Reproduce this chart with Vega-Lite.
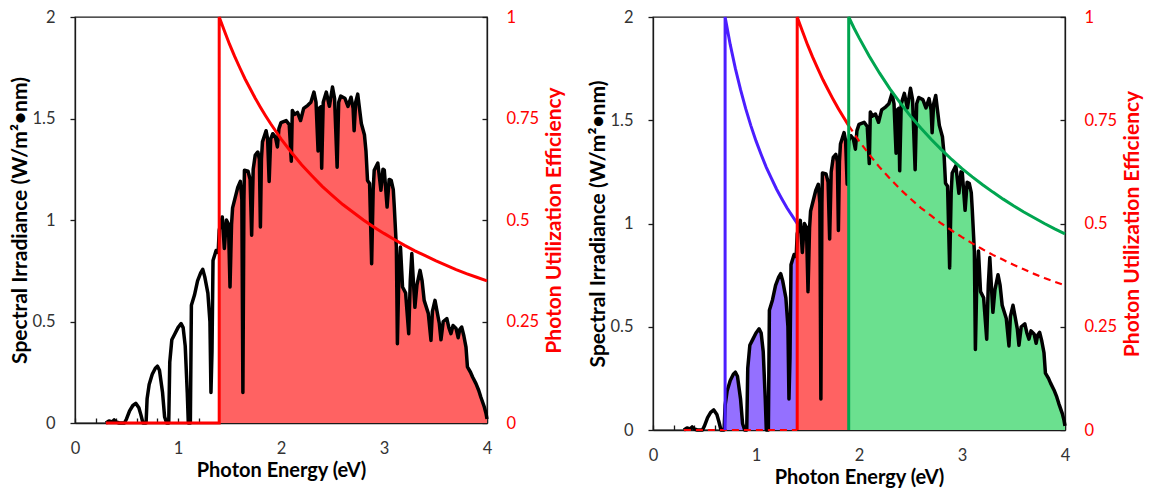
{
"$schema": "https://vega.github.io/schema/vega-lite/v6.json",
"padding": {"left": 9, "top": 8, "right": 0, "bottom": 0},
"background": "white",
"spacing": 21,
"config": {
  "view": {"stroke": "#1a1a1a", "strokeWidth": 1.3},
  "font": "Lato",
  "axis": {"grid": false, "domainColor": "#1a1a1a", "tickColor": "#1a1a1a", "domainWidth": 1.3, "tickWidth": 1.3, "labelFont": "Lato", "titleFont": "Lato", "labelFontSize": 16.5, "titleFontSize": 21, "titleFontWeight": "bold", "labelColor": "#333333", "titleColor": "#000000"}
},
"datasets": {
  "spectrum": [
    {"E":0.30,"irr":0.0},{"E":0.33,"irr":0.01},{"E":0.36,"irr":0.005},{"E":0.38,"irr":0.015},{"E":0.40,"irr":0.005},{"E":0.43,"irr":0.0},{"E":0.48,"irr":0.0},
    {"E":0.50,"irr":0.02},{"E":0.53,"irr":0.06},{"E":0.56,"irr":0.085},{"E":0.59,"irr":0.097},{"E":0.62,"irr":0.075},{"E":0.64,"irr":0.04},{"E":0.66,"irr":0.0},{"E":0.69,"irr":0.0},
    {"E":0.70,"irr":0.12},{"E":0.72,"irr":0.19},{"E":0.75,"irr":0.24},{"E":0.78,"irr":0.27},{"E":0.80,"irr":0.28},{"E":0.82,"irr":0.26},{"E":0.85,"irr":0.15},{"E":0.87,"irr":0.03},{"E":0.89,"irr":0.0},{"E":0.91,"irr":0.0},
    {"E":0.92,"irr":0.3},{"E":0.94,"irr":0.41},{"E":0.97,"irr":0.44},{"E":1.00,"irr":0.47},{"E":1.03,"irr":0.49},{"E":1.05,"irr":0.47},{"E":1.07,"irr":0.38},{"E":1.09,"irr":0.15},{"E":1.10,"irr":0.0},{"E":1.12,"irr":0.0},
    {"E":1.13,"irr":0.58},{"E":1.16,"irr":0.63},{"E":1.19,"irr":0.70},{"E":1.22,"irr":0.74},{"E":1.24,"irr":0.757},{"E":1.26,"irr":0.72},{"E":1.29,"irr":0.64},{"E":1.31,"irr":0.50},{"E":1.32,"irr":0.15},{"E":1.33,"irr":0.35},
    {"E":1.34,"irr":0.80},{"E":1.37,"irr":0.85},{"E":1.39,"irr":0.84},{"E":1.40,"irr":0.95},{"E":1.43,"irr":1.015},{"E":1.45,"irr":0.86},{"E":1.47,"irr":1.0},{"E":1.49,"irr":0.98},{"E":1.505,"irr":0.67},{"E":1.52,"irr":0.98},
    {"E":1.53,"irr":1.06},{"E":1.56,"irr":1.12},{"E":1.58,"irr":1.16},{"E":1.605,"irr":1.19},{"E":1.62,"irr":1.1},{"E":1.63,"irr":0.15},{"E":1.64,"irr":1.1},{"E":1.645,"irr":1.245},{"E":1.68,"irr":1.24},{"E":1.70,"irr":1.2},
    {"E":1.715,"irr":0.925},{"E":1.73,"irr":1.25},{"E":1.75,"irr":1.32},{"E":1.775,"irr":1.335},{"E":1.79,"irr":1.3},{"E":1.80,"irr":0.966},{"E":1.81,"irr":1.3},{"E":1.82,"irr":1.385},{"E":1.855,"irr":1.44},{"E":1.87,"irr":1.4},
    {"E":1.885,"irr":1.19},{"E":1.90,"irr":1.40},{"E":1.92,"irr":1.425},{"E":1.945,"irr":1.41},{"E":1.965,"irr":1.36},{"E":1.98,"irr":1.45},{"E":2.00,"irr":1.48},{"E":2.05,"irr":1.49},{"E":2.08,"irr":1.47},{"E":2.10,"irr":1.29},
    {"E":2.11,"irr":1.54},{"E":2.13,"irr":1.52},{"E":2.16,"irr":1.53},{"E":2.19,"irr":1.49},{"E":2.22,"irr":1.55},{"E":2.26,"irr":1.565},{"E":2.29,"irr":1.58},{"E":2.32,"irr":1.63},{"E":2.34,"irr":1.58},{"E":2.36,"irr":1.34},
    {"E":2.37,"irr":1.55},{"E":2.385,"irr":1.557},{"E":2.395,"irr":1.255},{"E":2.41,"irr":1.58},{"E":2.44,"irr":1.63},{"E":2.47,"irr":1.56},{"E":2.50,"irr":1.655},{"E":2.52,"irr":1.6},{"E":2.545,"irr":1.26},{"E":2.56,"irr":1.58},
    {"E":2.58,"irr":1.61},{"E":2.62,"irr":1.6},{"E":2.65,"irr":1.56},{"E":2.68,"irr":1.605},{"E":2.70,"irr":1.55},{"E":2.71,"irr":1.44},{"E":2.725,"irr":1.58},{"E":2.745,"irr":1.62},{"E":2.78,"irr":1.475},{"E":2.81,"irr":1.42},
    {"E":2.825,"irr":1.34},{"E":2.84,"irr":1.195},{"E":2.86,"irr":1.18},{"E":2.88,"irr":0.785},{"E":2.895,"irr":1.15},{"E":2.905,"irr":1.245},{"E":2.94,"irr":1.28},{"E":2.97,"irr":1.146},{"E":2.99,"irr":1.25},{"E":3.003,"irr":1.245},
    {"E":3.03,"irr":1.064},{"E":3.05,"irr":1.2},{"E":3.07,"irr":1.195},{"E":3.09,"irr":1.15},{"E":3.10,"irr":1.064},{"E":3.12,"irr":0.867},{"E":3.13,"irr":0.39},{"E":3.145,"irr":0.75},{"E":3.16,"irr":0.867},{"E":3.18,"irr":0.67},
    {"E":3.21,"irr":0.64},{"E":3.24,"irr":0.44},{"E":3.255,"irr":0.7},{"E":3.27,"irr":0.835},{"E":3.285,"irr":0.7},{"E":3.30,"irr":0.57},{"E":3.32,"irr":0.68},{"E":3.35,"irr":0.752},{"E":3.37,"irr":0.7},{"E":3.39,"irr":0.604},
    {"E":3.43,"irr":0.54},{"E":3.456,"irr":0.407},{"E":3.47,"irr":0.55},{"E":3.495,"irr":0.604},{"E":3.515,"irr":0.55},{"E":3.537,"irr":0.49},{"E":3.553,"irr":0.41},{"E":3.575,"irr":0.5},{"E":3.61,"irr":0.514},{"E":3.63,"irr":0.47},
    {"E":3.65,"irr":0.44},{"E":3.67,"irr":0.48},{"E":3.70,"irr":0.465},{"E":3.72,"irr":0.42},{"E":3.735,"irr":0.46},{"E":3.754,"irr":0.473},{"E":3.775,"irr":0.43},{"E":3.796,"irr":0.374},{"E":3.81,"irr":0.276},{"E":3.84,"irr":0.25},
    {"E":3.86,"irr":0.227},{"E":3.893,"irr":0.194},{"E":3.92,"irr":0.16},{"E":3.94,"irr":0.128},{"E":3.974,"irr":0.079},{"E":3.99,"irr":0.048},{"E":4.00,"irr":0.02}
  ],
  "effL": [
    {"i":0,"E":0.3,"eff":0},{"i":1,"E":1.4,"eff":0},{"i":2,"E":1.4,"eff":1},{"i":3,"E":1.45,"eff":0.966},{"i":4,"E":1.5,"eff":0.933},{"i":5,"E":1.55,"eff":0.903},{"i":6,"E":1.6,"eff":0.875},{"i":7,"E":1.65,"eff":0.848},{"i":8,"E":1.7,"eff":0.824},{"i":9,"E":1.75,"eff":0.8},{"i":10,"E":1.8,"eff":0.778},{"i":11,"E":1.85,"eff":0.757},{"i":12,"E":1.9,"eff":0.737},{"i":13,"E":2.0,"eff":0.7},{"i":14,"E":2.1,"eff":0.667},{"i":15,"E":2.2,"eff":0.636},{"i":16,"E":2.3,"eff":0.609},{"i":17,"E":2.4,"eff":0.583},{"i":18,"E":2.5,"eff":0.56},{"i":19,"E":2.6,"eff":0.538},{"i":20,"E":2.7,"eff":0.519},{"i":21,"E":2.8,"eff":0.5},{"i":22,"E":2.9,"eff":0.483},{"i":23,"E":3.0,"eff":0.467},{"i":24,"E":3.1,"eff":0.452},{"i":25,"E":3.2,"eff":0.4375},{"i":26,"E":3.3,"eff":0.424},{"i":27,"E":3.4,"eff":0.412},{"i":28,"E":3.5,"eff":0.4},{"i":29,"E":3.6,"eff":0.389},{"i":30,"E":3.7,"eff":0.378},{"i":31,"E":3.8,"eff":0.368},{"i":32,"E":3.9,"eff":0.359},{"i":33,"E":4.0,"eff":0.35}
  ],
  "effR": [
    {"s":"base","i":0,"E":0.3,"eff":0},{"s":"base","i":1,"E":1.4,"eff":0},
    {"s":"blue","i":0,"E":0.7,"eff":0},{"s":"blue","i":1,"E":0.7,"eff":1},{"s":"blue","i":2,"E":0.75,"eff":0.933},{"s":"blue","i":3,"E":0.8,"eff":0.875},{"s":"blue","i":4,"E":0.85,"eff":0.824},{"s":"blue","i":5,"E":0.9,"eff":0.778},{"s":"blue","i":6,"E":0.95,"eff":0.737},{"s":"blue","i":7,"E":1.0,"eff":0.7},{"s":"blue","i":8,"E":1.05,"eff":0.667},{"s":"blue","i":9,"E":1.1,"eff":0.636},{"s":"blue","i":10,"E":1.15,"eff":0.609},{"s":"blue","i":11,"E":1.2,"eff":0.583},{"s":"blue","i":12,"E":1.25,"eff":0.56},{"s":"blue","i":13,"E":1.3,"eff":0.538},{"s":"blue","i":14,"E":1.35,"eff":0.519},{"s":"blue","i":15,"E":1.4,"eff":0.5},
    {"s":"red","i":0,"E":1.4,"eff":0},{"s":"red","i":1,"E":1.4,"eff":1},{"s":"red","i":2,"E":1.45,"eff":0.966},{"s":"red","i":3,"E":1.5,"eff":0.933},{"s":"red","i":4,"E":1.55,"eff":0.903},{"s":"red","i":5,"E":1.6,"eff":0.875},{"s":"red","i":6,"E":1.65,"eff":0.848},{"s":"red","i":7,"E":1.7,"eff":0.824},{"s":"red","i":8,"E":1.75,"eff":0.8},{"s":"red","i":9,"E":1.8,"eff":0.778},{"s":"red","i":10,"E":1.85,"eff":0.757},{"s":"red","i":11,"E":1.9,"eff":0.737},
    {"s":"redTail","i":0,"E":1.9,"eff":0.737},{"s":"redTail","i":1,"E":2.0,"eff":0.7},{"s":"redTail","i":2,"E":2.1,"eff":0.667},{"s":"redTail","i":3,"E":2.2,"eff":0.636},{"s":"redTail","i":4,"E":2.3,"eff":0.609},{"s":"redTail","i":5,"E":2.4,"eff":0.583},{"s":"redTail","i":6,"E":2.5,"eff":0.56},{"s":"redTail","i":7,"E":2.6,"eff":0.538},{"s":"redTail","i":8,"E":2.7,"eff":0.519},{"s":"redTail","i":9,"E":2.8,"eff":0.5},{"s":"redTail","i":10,"E":2.9,"eff":0.483},{"s":"redTail","i":11,"E":3.0,"eff":0.467},{"s":"redTail","i":12,"E":3.1,"eff":0.452},{"s":"redTail","i":13,"E":3.2,"eff":0.4375},{"s":"redTail","i":14,"E":3.3,"eff":0.424},{"s":"redTail","i":15,"E":3.4,"eff":0.412},{"s":"redTail","i":16,"E":3.5,"eff":0.4},{"s":"redTail","i":17,"E":3.6,"eff":0.389},{"s":"redTail","i":18,"E":3.7,"eff":0.378},{"s":"redTail","i":19,"E":3.8,"eff":0.368},{"s":"redTail","i":20,"E":3.9,"eff":0.359},{"s":"redTail","i":21,"E":4.0,"eff":0.35},
    {"s":"green","i":0,"E":1.9,"eff":0},{"s":"green","i":1,"E":1.9,"eff":1},{"s":"green","i":2,"E":1.95,"eff":0.974},{"s":"green","i":3,"E":2.0,"eff":0.95},{"s":"green","i":4,"E":2.1,"eff":0.905},{"s":"green","i":5,"E":2.2,"eff":0.864},{"s":"green","i":6,"E":2.3,"eff":0.826},{"s":"green","i":7,"E":2.4,"eff":0.792},{"s":"green","i":8,"E":2.5,"eff":0.76},{"s":"green","i":9,"E":2.6,"eff":0.731},{"s":"green","i":10,"E":2.7,"eff":0.704},{"s":"green","i":11,"E":2.8,"eff":0.679},{"s":"green","i":12,"E":2.9,"eff":0.655},{"s":"green","i":13,"E":3.0,"eff":0.633},{"s":"green","i":14,"E":3.1,"eff":0.613},{"s":"green","i":15,"E":3.2,"eff":0.594},{"s":"green","i":16,"E":3.3,"eff":0.576},{"s":"green","i":17,"E":3.4,"eff":0.559},{"s":"green","i":18,"E":3.5,"eff":0.543},{"s":"green","i":19,"E":3.6,"eff":0.528},{"s":"green","i":20,"E":3.7,"eff":0.514},{"s":"green","i":21,"E":3.8,"eff":0.5},{"s":"green","i":22,"E":3.9,"eff":0.487},{"s":"green","i":23,"E":4.0,"eff":0.475}
  ]
},
"hconcat": [
  {
    "width": 412, "height": 406,
    "encoding": {
      "x": {"field": "E", "type": "quantitative", "scale": {"domain": [0, 4], "nice": false},
        "axis": {"title": "Photon Energy (eV)", "titleFontSize": 20, "values": [0,0.2,0.4,0.6,0.8,1,1.2,1.4,1.6,1.8,2,2.2,2.4,2.6,2.8,3,3.2,3.4,3.6,3.8,4], "labelExpr": "datum.value == floor(datum.value) ? '' + datum.value : ''", "labelOverlap": false, "labelFlush": false, "tickSize": -5, "labelPadding": 22, "titlePadding": 4}}
    },
    "layer": [
      {
        "data": {"name": "spectrum"},
        "encoding": {
          "y": {"field": "irr", "type": "quantitative", "scale": {"domain": [0, 2], "nice": false},
            "axis": {"title": "Spectral Irradiance (W/m²•nm)", "values": [0,0.5,1,1.5,2], "labelExpr": "'' + datum.value", "tickSize": 5, "labelPadding": 15, "titlePadding": 1}}
        },
        "layer": [
          {"transform": [{"filter": "datum.E >= 1.4"}], "mark": {"type": "area", "color": "#FF6262", "opacity": 1}},
          {"mark": {"type": "line", "color": "#000000", "strokeWidth": 3.5, "strokeJoin": "round"}}
        ]
      },
      {
        "data": {"name": "effL"},
        "encoding": {
          "y": {"field": "eff", "type": "quantitative", "scale": {"domain": [0, 1], "nice": false},
            "axis": {"orient": "right", "title": "Photon Utilization Efficiency", "titleColor": "#FF0000", "labelColor": "#FF0000", "titleAngle": -90, "values": [0,0.25,0.5,0.75,1], "labelExpr": "'' + datum.value", "tickSize": -5, "labelPadding": 24, "titlePadding": 26}},
          "order": {"field": "i", "type": "quantitative"}
        },
        "layer": [
          {"mark": {"type": "line", "color": "#FF0000", "strokeWidth": 3}}
        ]
      }
    ],
    "resolve": {"scale": {"y": "independent"}}
  },
  {
    "width": 412, "height": 413,
    "encoding": {
      "x": {"field": "E", "type": "quantitative", "scale": {"domain": [0, 4], "nice": false},
        "axis": {"title": "Photon Energy (eV)", "titleFontSize": 20, "values": [0,0.2,0.4,0.6,0.8,1,1.2,1.4,1.6,1.8,2,2.2,2.4,2.6,2.8,3,3.2,3.4,3.6,3.8,4], "labelExpr": "datum.value == floor(datum.value) ? '' + datum.value : ''", "labelOverlap": false, "labelFlush": false, "tickSize": -5, "labelPadding": 22, "titlePadding": 4}}
    },
    "layer": [
      {
        "data": {"name": "spectrum"},
        "encoding": {
          "y": {"field": "irr", "type": "quantitative", "scale": {"domain": [0, 2], "nice": false},
            "axis": {"title": "Spectral Irradiance (W/m²•nm)", "values": [0,0.5,1,1.5,2], "labelExpr": "'' + datum.value", "tickSize": 5, "labelPadding": 15, "titlePadding": 1}}
        },
        "layer": [
          {"transform": [{"filter": "datum.E >= 0.7 && datum.E <= 1.4"}], "mark": {"type": "area", "color": "#9470FF", "opacity": 1}},
          {"transform": [{"filter": "datum.E >= 1.4 && datum.E <= 1.9"}], "mark": {"type": "area", "color": "#FF6262", "opacity": 1}},
          {"transform": [{"filter": "datum.E >= 1.9"}], "mark": {"type": "area", "color": "#6BE08F", "opacity": 1}},
          {"mark": {"type": "line", "color": "#000000", "strokeWidth": 3.5, "strokeJoin": "round"}}
        ]
      },
      {
        "data": {"name": "effR"},
        "encoding": {
          "y": {"field": "eff", "type": "quantitative", "scale": {"domain": [0, 1], "nice": false},
            "axis": {"orient": "right", "title": "Photon Utilization Efficiency", "titleColor": "#FF0000", "labelColor": "#FF0000", "titleAngle": -90, "values": [0,0.25,0.5,0.75,1], "labelExpr": "'' + datum.value", "tickSize": -5, "labelPadding": 24, "titlePadding": 26}},
          "order": {"field": "i", "type": "quantitative"},
          "detail": {"field": "s", "type": "nominal"}
        },
        "layer": [
          {"transform": [{"filter": "datum.s == 'base' || datum.s == 'redTail'"}], "mark": {"type": "line", "color": "#FF0000", "strokeWidth": 2.2, "strokeDash": [7, 5]}},
          {"transform": [{"filter": "datum.s == 'blue'"}], "mark": {"type": "line", "color": "#4B1EFF", "strokeWidth": 3}},
          {"transform": [{"filter": "datum.s == 'red'"}], "mark": {"type": "line", "color": "#FF0000", "strokeWidth": 3}},
          {"transform": [{"filter": "datum.s == 'green'"}], "mark": {"type": "line", "color": "#00A550", "strokeWidth": 3}}
        ]
      }
    ],
    "resolve": {"scale": {"y": "independent"}}
  }
]
}
